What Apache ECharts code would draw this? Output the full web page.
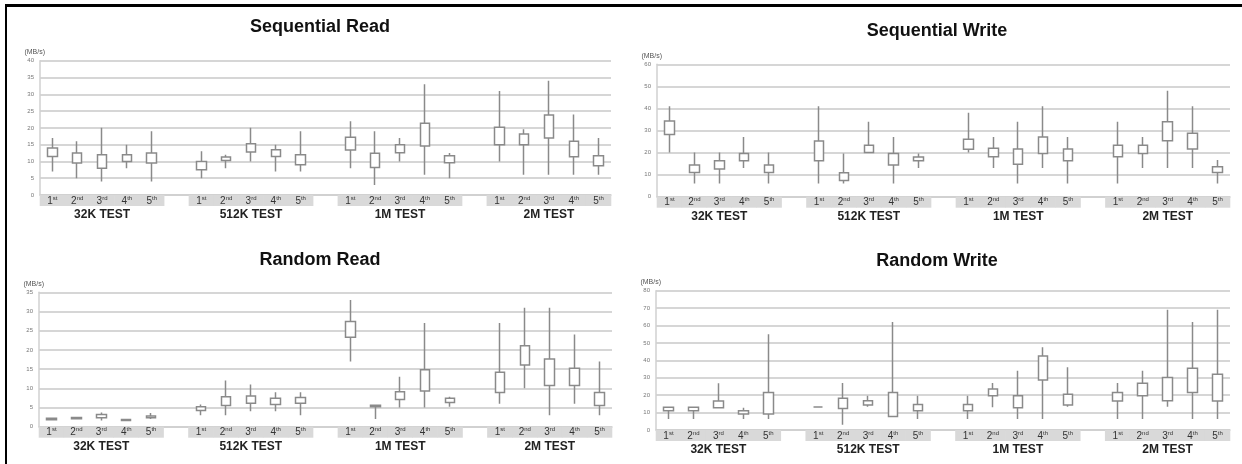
<!DOCTYPE html>
<html><head><meta charset="utf-8">
<script src="https://cdn.jsdelivr.net/npm/echarts@6/dist/echarts.min.js"></script>
<style>
html,body{margin:0;padding:0;background:#fff;overflow:hidden;}
#c{width:1242px;height:464px;}
#frame{position:absolute;left:5px;top:4px;width:1237px;height:460px;box-sizing:border-box;border-left:2.5px solid #000;border-top:3px solid #000;pointer-events:none;}
</style></head>
<body><div id="c"></div><div id="frame"></div>
<script>
const groups = ['32K TEST', '512K TEST', '1M TEST', '2M TEST'];
const runs = ['1st', '2nd', '3rd', '4th', '5th'];
const titles = ['Sequential Read', 'Sequential Write', 'Random Read', 'Random Write'];
const yMax = [40, 60, 35, 80];
const yStep = [5, 10, 5, 10];
const yUnit = '(MB/s)';

// each row: [box bottom, box top, whisker low, whisker high], 5 runs per group
const seqRead = [
  [11.5, 14, 7, 17], [9.5, 12.5, 5, 16], [8, 12, 4, 20], [10, 12, 8, 15], [9.5, 12.5, 4, 19],
  [7.5, 10, 5, 13], [10.3, 11.3, 8, 12], [12.8, 15.3, 10, 20], [11.5, 13.5, 7, 15], [9, 12, 7, 19],
  [13.4, 17.2, 8, 22], [8.2, 12.4, 3, 19], [12.6, 15, 10, 17], [14.6, 21.4, 6, 33], [9.6, 11.7, 5, 12.5],
  [15, 20.2, 10, 31], [15, 18.2, 6, 19.6], [17, 23.8, 6, 34], [11.4, 16, 6, 24], [8.7, 11.7, 6, 17]
];
const seqWrite = [
  [28.2, 34.3, 20, 41], [11, 14.4, 6, 20], [12.5, 16.3, 6, 20], [16.3, 19.6, 13, 27], [11, 14.4, 6, 20],
  [16.3, 25.2, 6, 41], [7.3, 10.9, 6, 19.6], [20, 23.3, 20, 34], [14.4, 19.6, 6, 27], [16.3, 18, 13, 19.6],
  [21.5, 26, 20, 38], [18.1, 21.9, 13, 27], [14.7, 21.6, 6, 34], [19.6, 27, 13, 41], [16.3, 21.6, 6, 27],
  [18.1, 23.3, 6, 34], [19.6, 23.3, 13, 27], [25.4, 34, 13, 48], [21.6, 28.7, 13, 41], [11, 13.6, 6, 16.6]
];
const randRead = [
  [1.8, 2.2, 1.6, 2.4], [2.1, 2.4, 1.9, 2.6], [2.3, 3.2, 1.6, 3.7], [1.6, 1.9, 1.4, 2.1], [2.3, 2.8, 2, 3.6],
  [4.2, 5.2, 3, 5.8], [5.5, 7.8, 3, 12], [6.1, 8, 4, 11], [5.8, 7.4, 4, 9], [6.1, 7.6, 3, 9],
  [23.3, 27.4, 17, 33], [5.2, 5.6, 2, 5.6], [7.1, 9.1, 5, 13], [9.3, 14.8, 5, 27], [6.3, 7.4, 5.2, 7.8],
  [8.9, 14.2, 6, 27], [16.1, 21.1, 10, 31], [10.7, 17.6, 3, 31], [10.7, 15.2, 6, 24], [5.5, 8.9, 3, 17]
];
const randWrite = [
  [11.1, 13, 6.3, 13], [11.1, 13, 6.3, 13], [12.8, 16.7, 12.8, 26.8], [9.2, 11.1, 6.3, 12.8], [9.2, 21.6, 6.3, 55],
  [13.2, 13.2, 13.2, 13.2], [12.4, 18.2, 3, 27], [14.4, 16.8, 13.4, 19.7], [7.7, 21.6, 7.7, 62], [11.1, 14.7, 6.3, 19.7],
  [11.1, 14.7, 6.3, 19.7], [19.7, 23.5, 13, 27], [12.8, 19.7, 6.3, 34], [28.7, 42.5, 6.3, 47.5], [14.4, 20.5, 13.4, 36],
  [16.7, 21.6, 6.3, 27], [19.7, 26.8, 6.3, 34], [16.8, 30.2, 13.4, 69], [21.6, 35.4, 6.3, 62], [16.7, 32, 6.3, 69]
];
const panelData = [seqRead, seqWrite, randRead, randWrite];

// layout (pixels)
const grids = [
  {left: 40, top: 60.7, width: 571, height: 134.3, titleX: 320, titleY: 18},
  {left: 657, top: 64.3, width: 573, height: 132.4, titleX: 937, titleY: 22},
  {left: 39, top: 292.3, width: 573, height: 134.4, titleX: 320, titleY: 251},
  {left: 656, top: 290.7, width: 574, height: 139.3, titleX: 937, titleY: 252}
];

// categories: 5 runs per group, one empty slot between groups
const cats = [];
groups.forEach((g, gi) => {
  runs.forEach(r => cats.push({group: g, run: r}));
  if (gi < groups.length - 1) cats.push(null);
});

function runLabel(r) {
  return '{n|' + r.charAt(0) + '}{s|' + r.slice(1) + '}';
}

const option = {
  animation: false,
  backgroundColor: '#fff',
  title: [], grid: [], xAxis: [], yAxis: [], series: []
};

grids.forEach((g, i) => {
  const slotW = g.width / cats.length;
  option.title.push({
    text: titles[i], left: g.titleX, top: g.titleY, textAlign: 'center', padding: 0,
    textStyle: {fontFamily: 'Liberation Sans', fontSize: 18, fontWeight: 'bold', color: '#111'}
  });
  option.grid.push({left: g.left, top: g.top, width: g.width, height: g.height, containLabel: false, outerBoundsMode: 'none'});
  const axisData = cats.map((c, k) => c ? {value: c.group + '|' + c.run, textStyle: {backgroundColor: '#d9d9d9'}} : {value: 'gap' + k});
  option.xAxis.push({
    type: 'category', gridIndex: i, data: axisData, boundaryGap: true,
    axisLine: {show: true, lineStyle: {color: '#d0d0d0', width: 1.5}},
    axisTick: {show: false},
    splitLine: {show: false},
    axisLabel: {
      interval: 0, margin: 0, width: slotW + 0.6, height: 11, lineHeight: 11, align: 'center',
      formatter: v => v.indexOf('|') < 0 ? '' : runLabel(v.split('|')[1]),
      rich: {
        n: {fontFamily: 'Liberation Sans', fontSize: 10, color: '#333', lineHeight: 11, verticalAlign: 'bottom'},
        s: {fontFamily: 'Liberation Sans', fontSize: 6, color: '#333', lineHeight: 7, verticalAlign: 'top'}
      }
    }
  });
  option.xAxis.push({
    type: 'category', gridIndex: i, data: axisData.map(d => d.value), boundaryGap: true, position: 'bottom',
    axisLine: {show: false}, axisTick: {show: false}, splitLine: {show: false},
    axisLabel: {
      interval: 0, margin: 14,
      formatter: v => (v.indexOf('|') >= 0 && v.split('|')[1] === runs[2]) ? v.split('|')[0] : '',
      fontFamily: 'Liberation Sans', fontSize: 12, fontWeight: 'bold', color: '#222'
    }
  });
  option.yAxis.push({
    type: 'value', gridIndex: i, min: 0, max: yMax[i], interval: yStep[i],
    name: yUnit, nameLocation: 'end', nameGap: 5,
    nameTextStyle: {fontFamily: 'Liberation Sans', fontSize: 7, color: '#555', align: 'right', padding: [0, -5, 0, 0]},
    axisLine: {show: true, lineStyle: {color: '#d0d0d0', width: 1.5}},
    axisTick: {show: false},
    axisLabel: {fontFamily: 'Liberation Sans', fontSize: 6, color: '#777', margin: 6},
    splitLine: {show: true, lineStyle: {color: '#d6d6d6', width: 2}}
  });
  let idx = 0;
  const sData = cats.map(c => c ? panelData[i][idx++] : '-');
  option.series.push({
    type: 'candlestick', xAxisIndex: i * 2, yAxisIndex: i, barWidth: 10,
    data: sData,
    itemStyle: {color: '#fff', color0: '#fff', borderColor: '#8a8a8a', borderColor0: '#8a8a8a', borderColorDoji: '#8a8a8a', borderWidth: 1.5}
  });
});

const chart = echarts.init(document.getElementById('c'), null, {renderer: 'canvas'});
chart.setOption(option);
</script>
</body></html>
